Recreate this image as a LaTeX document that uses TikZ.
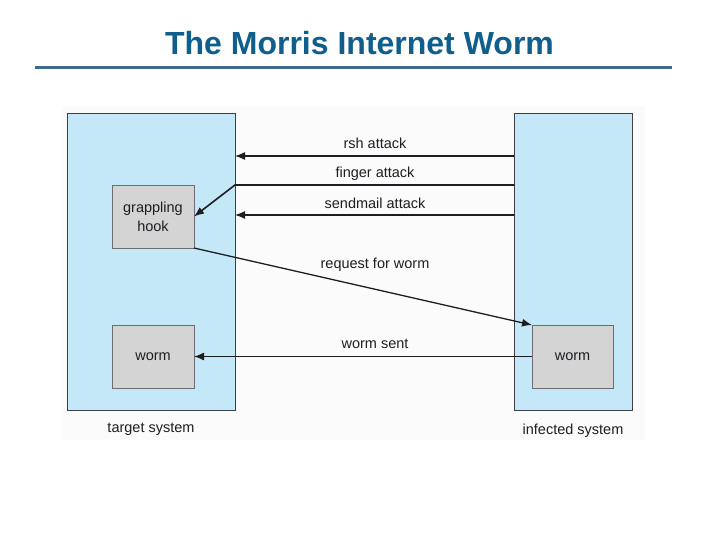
\documentclass[tikz,border=0pt]{standalone}
\usepackage{fontspec}
\setmainfont{Liberation Sans}
\usetikzlibrary{arrows.meta}
\definecolor{titleblue}{RGB}{16,94,140}
\definecolor{ruleblue}{RGB}{62,104,140}
\definecolor{sysblue}{RGB}{197,232,248}
\definecolor{boxgray}{RGB}{212,212,212}
\definecolor{inkdark}{RGB}{28,30,34}
\tikzset{
  sysbox/.style={draw=inkdark!85, line width=0.9bp, fill=sysblue, inner sep=0pt, outer sep=0pt},
  progbox/.style={draw=inkdark!65, line width=0.8bp, fill=boxgray, inner sep=0pt, outer sep=0pt,
     minimum width=82bp, minimum height=63bp, align=center, font=\fontsize{14.5bp}{19bp}\selectfont, text=inkdark},
  lbl/.style={font=\fontsize{14.5bp}{16bp}\selectfont, text=inkdark, inner sep=0pt},
  arr/.style={draw=inkdark, line width=1.3bp, -{Latex[length=10bp,width=8bp]}},
}
\begin{document}
\begin{tikzpicture}[x=1bp,y=-1bp]
\useasboundingbox (0,0) rectangle (720,540);
\fill[white] (0,0) rectangle (720,540);
\fill[black!1.5] (62,106) rectangle (645,440);
% title
\node[font=\fontsize{32bp}{36bp}\selectfont\bfseries, text=titleblue, inner sep=0pt, anchor=base] (title) at (359.5,55) {The Morris Internet Worm};
\draw[ruleblue, line width=3bp] (35,67.5) -- (672,67.5);
% systems
\node[sysbox, minimum width=168bp, minimum height=297bp] (target) at (151,261.5) {};
\node[sysbox, minimum width=118bp, minimum height=297bp] (infected) at (573,261.5) {};
\node[progbox] (hook) at (153,216.5) {grappling\\hook};
\node[progbox] (wormL) at (153,356.5) {worm};
\node[progbox, minimum width=81bp] (wormR) at (572.5,356.5) {worm};
% row coordinates
\coordinate (yrsh) at (0,156);
\coordinate (yfinger) at (0,185);
\coordinate (ysend) at (0,215);
% arrows
\draw[arr] (infected.west |- yrsh) -- (target.east |- yrsh);
\draw[arr, line width=1.6bp] (infected.west |- yfinger) -- (target.east |- yfinger) -- (hook.east);
\draw[arr] (infected.west |- ysend) -- (target.east |- ysend);
\draw[arr] (hook.south east) -- (wormR.north west);
\draw[arr] (wormR.west) -- (wormL.east);
% labels
\node[lbl] (lrsh) at (375,143.5) {rsh attack};
\node[lbl] (lfinger) at (375,173.5) {finger attack};
\node[lbl] (lsend) at (375,203.5) {sendmail attack};
\node[lbl] (lreq) at (375,264.5) {request for worm};
\node[lbl] (lsent) at (375,343.5) {worm sent};
\node[lbl] (ltarget) at (151,429) {target system};
\node[lbl] (linfected) at (573,430.5) {infected system};
\end{tikzpicture}
\end{document}
